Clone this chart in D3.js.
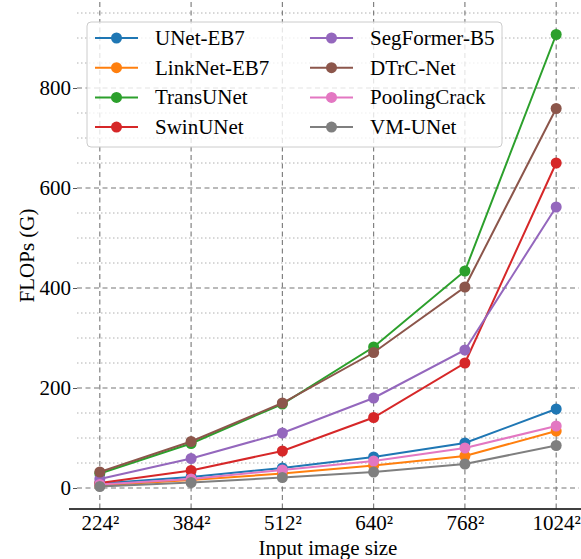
<!DOCTYPE html>
<html>
<head>
<meta charset="utf-8">
<script src="https://cdn.jsdelivr.net/npm/d3@7"></script>
<style>
  body { margin: 0; background: #fff; }
  svg text { font-family: 'Liberation Serif', 'Times New Roman', serif; fill: #000; }
</style>
</head>
<body>
<svg id="chart"></svg>
<script>
const sizes = ['224²', '384²', '512²', '640²', '768²', '1024²']
const models = ['UNet-EB7', 'LinkNet-EB7', 'TransUNet', 'SwinUNet', 'SegFormer-B5', 'DTrC-Net', 'PoolingCrack', 'VM-UNet']
const unetEb7 = [9, 22, 40, 62, 90, 158]
const linknetEb7 = [5, 16, 29, 45, 64, 114]
const transUnet = [29, 89, 168, 282, 434, 907]
const swinUnet = [10, 35, 74, 141, 250, 650]
const segformerB5 = [18, 59, 110, 180, 276, 562]
const dtrcNet = [32, 93, 170, 271, 402, 759]
const poolingCrack = [7, 18, 36, 54, 80, 124]
const vmUnet = [3, 11, 21, 32, 48, 85]
const yTicks = [0, 200, 400, 600, 800]

const series = [unetEb7, linknetEb7, transUnet, swinUnet, segformerB5, dtrcNet, poolingCrack, vmUnet]
const colors = d3.schemeCategory10
const fontSize = 21

const width = 581
const height = 559
const plot = { left: 77, right: 579, top: 2, bottom: 509 }

const svg = d3.select('#chart').attr('width', width).attr('height', height)

const x = d3.scalePoint().domain(sizes).range([plot.left, plot.right]).padding(0.25)
const y = d3.scaleLinear().domain([-42, 972]).range([plot.bottom, plot.top])

// minor grid (dotted)
const minor = d3.range(-50, 1000, 50).filter(v => v % 200 !== 0 && y(v) > plot.top && y(v) < plot.bottom)
svg.append('g')
  .selectAll('line')
  .data(minor)
  .join('line')
  .attr('x1', plot.left).attr('x2', plot.right)
  .attr('y1', d => y(d)).attr('y2', d => y(d))
  .attr('stroke', '#b0b0b0')
  .attr('stroke-width', 1)
  .attr('stroke-dasharray', '1.5,2.5')

// major grid (dashed)
const grid = svg.append('g').attr('stroke', '#777').attr('stroke-width', 1.1).attr('stroke-dasharray', '5,3.5')
grid.selectAll('.hy')
  .data(yTicks)
  .join('line')
  .attr('class', 'hy')
  .attr('x1', plot.left).attr('x2', plot.right)
  .attr('y1', d => y(d)).attr('y2', d => y(d))
grid.selectAll('.vx')
  .data(sizes)
  .join('line')
  .attr('class', 'vx')
  .attr('x1', d => x(d)).attr('x2', d => x(d))
  .attr('y1', plot.top).attr('y2', plot.bottom)

// axes
const xAxis = svg.append('g')
  .attr('transform', `translate(0,${plot.bottom})`)
  .call(d3.axisBottom(x).tickSize(0).tickPadding(6))
xAxis.select('.domain').attr('stroke', '#000').attr('stroke-width', 1.5).attr('d', `M${plot.left - 8},0H${plot.right + 2}`)
xAxis.selectAll('text').attr('font-size', fontSize)

const yAxis = svg.append('g')
  .attr('transform', `translate(${plot.left},0)`)
  .call(d3.axisLeft(y).tickValues(yTicks).tickSize(4).tickPadding(2))
yAxis.select('.domain').remove()
yAxis.selectAll('line').attr('stroke', '#555')
yAxis.selectAll('text').attr('font-size', fontSize)

svg.append('text')
  .attr('x', (plot.left + plot.right) / 2)
  .attr('y', 555)
  .attr('text-anchor', 'middle')
  .attr('font-size', fontSize)
  .text('Input image size')

svg.append('text')
  .attr('transform', `translate(34,${(plot.top + plot.bottom) / 2}) rotate(-90)`)
  .attr('text-anchor', 'middle')
  .attr('font-size', fontSize)
  .text('FLOPs (G)')

// lines and markers
const line = d3.line().x((d, i) => x(sizes[i])).y(d => y(d))
series.forEach((values, k) => {
  const g = svg.append('g')
  g.append('path')
    .attr('d', line(values))
    .attr('fill', 'none')
    .attr('stroke', colors[k])
    .attr('stroke-width', 2)
  g.selectAll('circle')
    .data(values)
    .join('circle')
    .attr('cx', (d, i) => x(sizes[i]))
    .attr('cy', d => y(d))
    .attr('r', 5.5)
    .attr('fill', colors[k])
})

// legend
const legend = svg.append('g')
legend.append('rect')
  .attr('x', 87).attr('y', 22)
  .attr('width', 415).attr('height', 125)
  .attr('rx', 4)
  .attr('fill', 'rgba(255,255,255,0.8)')
  .attr('stroke', '#ccc')
  .attr('stroke-width', 1)

models.forEach((name, k) => {
  const col = Math.floor(k / 4)
  const row = k % 4
  const lx = col === 0 ? 95 : 310
  const ly = 38 + row * 29.7
  const item = legend.append('g')
  item.append('line')
    .attr('x1', lx).attr('x2', lx + 43)
    .attr('y1', ly).attr('y2', ly)
    .attr('stroke', colors[k])
    .attr('stroke-width', 2)
  item.append('circle')
    .attr('cx', lx + 21.5).attr('cy', ly)
    .attr('r', 5.5)
    .attr('fill', colors[k])
  item.append('text')
    .attr('x', lx + 60)
    .attr('y', ly + 7)
    .attr('font-size', fontSize)
    .text(name)
})
</script>
</body>
</html>
